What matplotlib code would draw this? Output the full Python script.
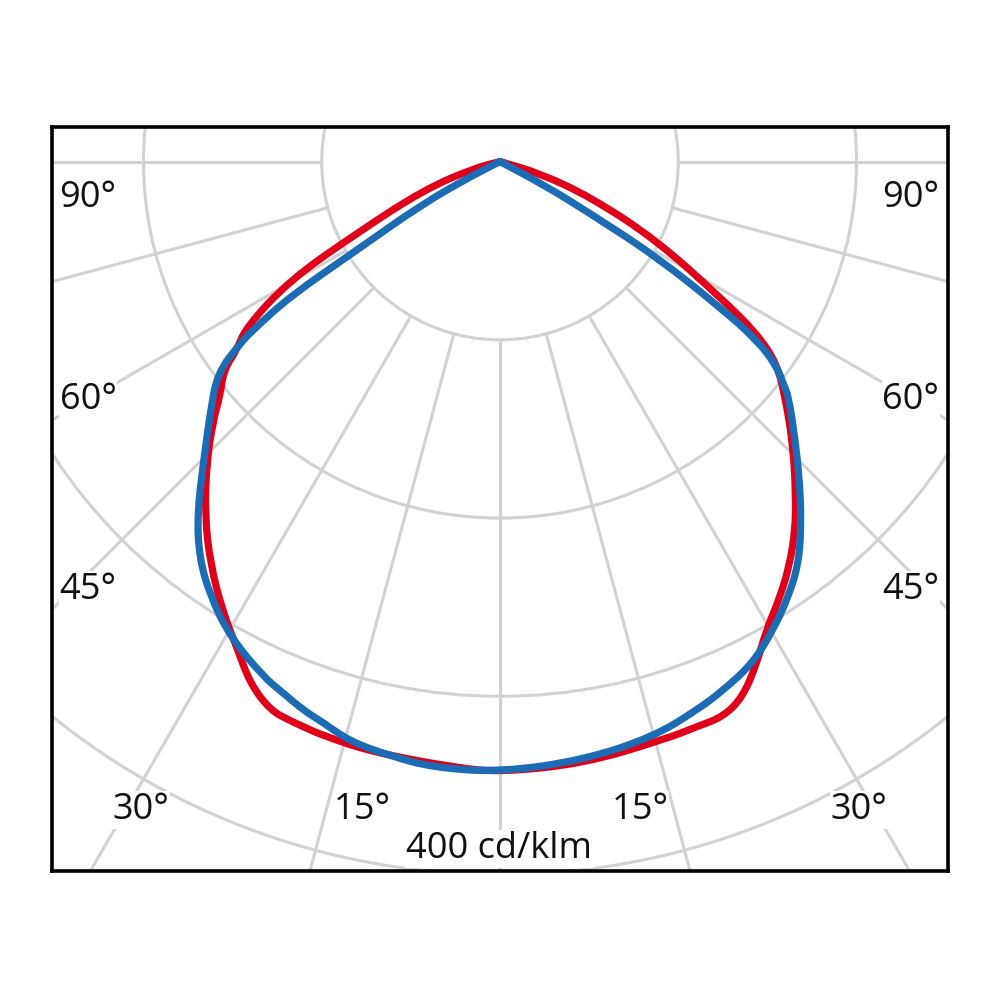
import matplotlib
matplotlib.use('Agg')
import matplotlib.pyplot as plt
from matplotlib.patches import Circle, PathPatch
from matplotlib.path import Path
import numpy as np

plt.rcParams['font.family'] = ['Open Sans', 'DejaVu Sans']

# luminous intensity readings in cd/klm, angle from nadir (deg), in path order
blue_left_deg = [0, 6.3, 10.5, 14.5, 17.5, 19.7, 22.2, 24.7, 29.6, 33.7, 37.2,
                 40.6, 44.5, 49.0, 53.2, 55.0, 55.7, 57.3, 58.3, 61.4, 63.2, 65]
blue_left_cd = [342.5, 342, 339, 336, 330, 327, 322, 318, 306.5, 293, 279,
                261, 237.5, 215.5, 198, 178, 168, 140, 94, 49, 17, 0]
blue_right_deg = [0, 7.9, 14.9, 19.7, 22.9, 26.8, 30.3, 33.5, 36.6, 39.8, 43.3,
                  47.0, 50.8, 51.9, 53.6, 55.2, 56.4, 58.7, 60.1, 62, 64]
blue_right_cd = [342.5, 339, 334, 327, 322, 315, 304, 293, 281, 264, 245,
                 226, 209, 202, 192.4, 175.5, 150, 103, 58, 28, 0]

red_left_deg = [0, 4.1, 12.1, 17.1, 19.2, 20.6, 22.7, 25.6, 28.5, 31.5, 35.8,
                40.0, 44.2, 47.9, 50.0, 53.0, 54.4, 56.9, 60.6, 63.4, 69.6, 75.7, 80]
red_left_cd = [342.5, 341, 339, 337, 335.7, 335, 333.7, 324.6, 309.7, 297.2, 278,
               257.6, 236.1, 217, 205.2, 194, 181.7, 170, 135, 90, 46, 15, 0]
red_right_deg = [0, 7.9, 16.1, 19.2, 21.9, 24.4, 27.1, 29.6, 32.8, 35.8, 38.7,
                 41.4, 45.8, 50.5, 53.9, 56.2, 58.2, 63.4, 68.7, 73.6, 80]
red_right_cd = [342.5, 341, 337, 335.7, 335.7, 329.8, 316.2, 302.4, 290.3, 278, 264.8,
                250.9, 229.5, 207.3, 192.1, 173.3, 147, 98, 54, 23, 0]

grid_radii = [100, 200, 300, 400]
grid_angles = [-90, -75, -60, -45, -30, -15, 0, 15, 30, 45, 60, 75, 90]

angle_labels = ['90°', '60°', '45°', '30°', '15°', '15°', '30°', '45°', '60°', '90°']
label_xy = [(88, 198), (88, 400), (88, 590), (141, 810), (362, 810),
            (640, 810), (859, 810), (911, 590), (911, 400), (911, 198)]
scale_label = '400 cd/klm'

GRID = '#d2d2d2'
RED = '#e1001a'
BLUE = '#1b6cb4'


def to_xy(left_deg, left_cd, right_deg, right_cd):
    # tip -> left side -> nadir -> right side -> tip
    lg = np.radians(np.array(left_deg[::-1], float))
    li = np.array(left_cd[::-1], float)
    rg = np.radians(np.array(right_deg[1:], float))
    ri = np.array(right_cd[1:], float)
    x = np.concatenate([-li * np.sin(lg), ri * np.sin(rg)])
    y = np.concatenate([-li * np.cos(lg), -ri * np.cos(rg)])
    return x, y


def smooth_path(x, y):
    pts = np.column_stack([x, y])
    mids = (pts[:-1] + pts[1:]) / 2
    verts = [pts[0], mids[0]]
    codes = [Path.MOVETO, Path.LINETO]
    for i in range(1, len(pts) - 1):
        verts += [pts[i], mids[i]]
        codes += [Path.CURVE3, Path.CURVE3]
    verts.append(pts[-1])
    codes.append(Path.LINETO)
    return Path(verts, codes)


fig = plt.figure(figsize=(10, 10), dpi=100)
ax = fig.add_axes([0.052, 0.129, 0.896, 0.744])
ax.set_xlim(-251.3, 251.3)
ax.set_ylim(-398.0, 19.4)
ax.set_aspect('equal')
ax.set_xticks([])
ax.set_yticks([])
for s in ax.spines.values():
    s.set_linewidth(2.6)
    s.set_color('black')
    s.set_zorder(10)

for r in grid_radii:
    ax.add_patch(Circle((0, 0), r, fill=False, ec=GRID, lw=2.2, zorder=1))
for a in grid_angles:
    t = np.radians(a)
    ax.plot([100 * np.sin(t), 700 * np.sin(t)], [-100 * np.cos(t), -700 * np.cos(t)],
            color=GRID, lw=2.2, zorder=1, solid_capstyle='butt')

for lists, col, z in [((red_left_deg, red_left_cd, red_right_deg, red_right_cd), RED, 3),
                      ((blue_left_deg, blue_left_cd, blue_right_deg, blue_right_cd), BLUE, 4)]:
    x, y = to_xy(*lists)
    ax.add_patch(PathPatch(smooth_path(x, y), fill=False, ec=col, lw=5.2,
                           capstyle='round', joinstyle='round', zorder=z))

for lab, (px, py) in zip(angle_labels, label_xy):
    fig.text(px / 1000, 1 - py / 1000, lab, fontsize=26, color='#111111',
             ha='center', va='center', zorder=5,
             bbox=dict(fc='white', ec='none', pad=0.5))
fig.text(0.499, 1 - 849 / 1000, scale_label, fontsize=26, color='#111111',
         ha='center', va='center', zorder=5,
         bbox=dict(fc='white', ec='none', pad=0.5))

fig.savefig('out.png', dpi=100, facecolor='white')
